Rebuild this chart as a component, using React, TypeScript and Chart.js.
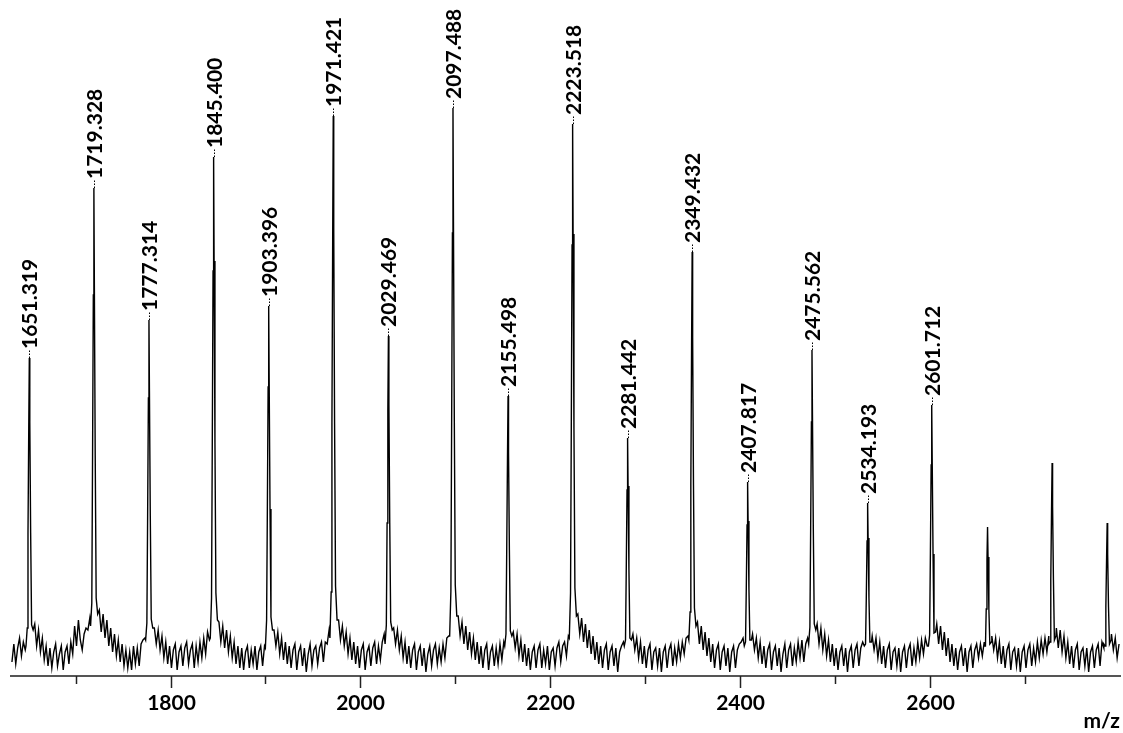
import React, { useEffect, useRef } from "react";
import { Chart, registerables } from "chart.js";

Chart.register(...registerables);

// ---- data ----
// baseline noise, read every 2 m/z units starting at 1633 (10 values per row = 20 m/z)
const noiseStartMz = 1633;
const noiseStepMz = 2;
const noiseIntensity = [
  14, 32, 12, 28, 38, 20, 34, 26, 40, 40,
  40, 40, 52, 30, 46, 24, 38, 16, 30, 10,
  28, 8, 24, 32, 10, 22, 30, 6, 24, 30,
  12, 34, 22, 50, 30, 56, 36, 26, 42, 48,
  46, 58, 60, 60, 60, 60, 66, 44, 62, 38,
  56, 30, 48, 24, 42, 20, 36, 14, 32, 10,
  26, 8, 24, 6, 30, 12, 28, 10, 32, 36,
  38, 40, 40, 40, 40, 48, 32, 46, 26, 40,
  18, 34, 12, 30, 8, 26, 32, 6, 24, 30,
  10, 28, 34, 12, 26, 32, 8, 30, 14, 34,
  18, 38, 22, 44, 36, 40, 40, 40, 40, 54,
  34, 50, 28, 46, 24, 40, 18, 34, 12, 30,
  8, 28, 6, 24, 30, 8, 26, 12, 30, 6,
  24, 30, 10, 30, 34, 30, 30, 30, 46, 30,
  44, 22, 38, 16, 34, 12, 30, 8, 26, 32,
  6, 24, 30, 10, 28, 4, 22, 32, 10, 26,
  30, 12, 28, 34, 14, 34, 32, 46, 40, 40,
  40, 40, 56, 36, 50, 30, 44, 22, 38, 16,
  34, 12, 30, 8, 26, 32, 6, 24, 30, 10,
  28, 34, 12, 30, 16, 34, 42, 30, 30, 30,
  30, 48, 32, 46, 26, 40, 18, 34, 12, 30,
  8, 26, 32, 6, 24, 30, 10, 28, 4, 22,
  30, 10, 26, 32, 12, 28, 14, 32, 18, 38,
  40, 40, 40, 40, 40, 60, 40, 54, 32, 50,
  26, 44, 22, 38, 16, 34, 12, 30, 8, 26,
  32, 6, 24, 30, 10, 28, 12, 32, 16, 34,
  30, 30, 30, 30, 44, 28, 42, 20, 36, 14,
  32, 10, 28, 6, 24, 30, 8, 26, 32, 8,
  26, 12, 30, 6, 24, 28, 10, 28, 34, 14,
  30, 34, 20, 40, 40, 40, 40, 40, 62, 42,
  58, 34, 52, 28, 46, 22, 40, 16, 34, 12,
  30, 8, 26, 32, 6, 24, 30, 10, 28, 4,
  24, 30, 34, 30, 30, 30, 30, 42, 26, 38,
  18, 34, 12, 30, 8, 26, 32, 6, 24, 28,
  10, 28, 4, 24, 30, 8, 26, 32, 10, 28,
  14, 32, 18, 34, 22, 38, 40, 40, 40, 40,
  40, 54, 32, 50, 26, 44, 20, 38, 14, 32,
  8, 26, 32, 6, 24, 30, 10, 28, 4, 24,
  30, 8, 26, 32, 34, 38, 30, 30, 30, 30,
  42, 26, 38, 18, 34, 12, 30, 8, 26, 32,
  6, 24, 30, 10, 28, 4, 22, 32, 8, 26,
  32, 10, 28, 14, 34, 18, 36, 14, 32, 38,
  30, 30, 30, 30, 52, 32, 48, 26, 42, 20,
  36, 14, 32, 10, 28, 6, 24, 30, 10, 28,
  4, 24, 30, 8, 26, 32, 10, 28, 34, 32,
  30, 30, 30, 40, 26, 38, 18, 34, 12, 30,
  8, 26, 32, 6, 24, 28, 10, 28, 4, 24,
  30, 8, 26, 32, 10, 28, 14, 34, 18, 36,
  22, 38, 30, 30, 30, 30, 30, 52, 32, 50,
  26, 44, 20, 38, 14, 32, 10, 28, 6, 24,
  30, 10, 28, 4, 24, 30, 8, 26, 32, 18,
  32, 20, 34, 30, 30, 30, 40, 26, 38, 18,
  34, 12, 30, 8, 26, 32, 6, 24, 28, 10,
  28, 4, 24, 30, 8, 26, 32, 10, 28, 14,
  34, 18, 36, 22, 38, 24, 40, 30, 30, 30,
  48, 28, 46, 24, 40, 18, 34, 12, 30, 8,
  26, 32, 6, 24, 28, 10, 28, 4, 24, 30,
  8, 26, 32, 10, 34, 28, 30, 30, 30, 42,
  26, 38, 18, 32,
];

// peak apex positions (m/z) and their profiles [m/z, intensity]
const peakCenters = [
  1651.3, 1719.3, 1777.3, 1845.4, 1903.4, 1971.4, 2029.5, 2097.5, 2155.5, 2223.5,
  2281.4, 2349.4, 2407.8, 2475.6, 2534.2, 2601.7, 2660.5, 2728.5, 2786.5,
];

const peakProfiles: [number, number][][] = [
  [[1647.8, 30], [1649.1, 48], [1649.9, 143], [1650.7, 248], [1651.3, 318], [1651.8, 254], [1652.7, 143], [1653.7, 51], [1655.3, 46]],
  [[1715.8, 50], [1717.1, 73], [1717.9, 220], [1718.7, 381], [1719.3, 488], [1719.8, 390], [1720.7, 220], [1721.7, 78], [1723.3, 62]],
  [[1773.8, 36], [1775.1, 53], [1775.9, 160], [1776.7, 278], [1777.3, 356], [1777.8, 285], [1778.7, 160], [1779.7, 57], [1781.3, 48]],
  [[1841.9, 38], [1843.2, 78], [1844.0, 234], [1844.8, 405], [1845.4, 519], [1845.9, 415], [1846.8, 234], [1847.8, 83], [1849.4, 56]],
  [[1899.9, 28], [1901.2, 56], [1902.0, 167], [1902.8, 289], [1903.4, 370], [1903.9, 296], [1904.8, 167], [1905.8, 59], [1907.4, 46]],
  [[1967.9, 38], [1969.2, 84], [1970.0, 252], [1970.8, 437], [1971.4, 560], [1971.9, 448], [1972.8, 252], [1973.8, 90], [1975.4, 56]],
  [[2026.0, 32], [2027.3, 51], [2028.1, 153], [2028.9, 265], [2029.5, 340], [2030.0, 272], [2030.9, 153], [2031.9, 54], [2033.5, 46]],
  [[2094.0, 40], [2095.3, 85], [2096.1, 256], [2096.9, 443], [2097.5, 568], [2098.0, 454], [2098.9, 256], [2099.9, 91], [2101.5, 60]],
  [[2152.0, 30], [2153.3, 42], [2154.1, 126], [2154.9, 218], [2155.5, 280], [2156.0, 224], [2156.9, 126], [2157.9, 45], [2159.5, 40]],
  [[2220.0, 38], [2221.3, 83], [2222.1, 248], [2222.9, 431], [2223.5, 552], [2224.0, 442], [2224.9, 248], [2225.9, 88], [2227.5, 60]],
  [[2277.9, 30], [2279.2, 36], [2280.0, 107], [2280.8, 186], [2281.4, 238], [2281.9, 190], [2282.8, 107], [2283.8, 38], [2285.4, 36]],
  [[2345.9, 36], [2347.2, 64], [2348.0, 191], [2348.8, 331], [2349.4, 424], [2349.9, 339], [2350.8, 191], [2351.8, 68], [2353.4, 50]],
  [[2404.3, 30], [2405.6, 34], [2406.4, 87], [2407.2, 151], [2407.8, 194], [2408.3, 155], [2409.2, 87], [2410.2, 36], [2411.8, 36]],
  [[2472.1, 32], [2473.4, 49], [2474.2, 147], [2475.0, 254], [2475.6, 326], [2476.1, 261], [2477.0, 147], [2478.0, 52], [2479.6, 46]],
  [[2530.7, 30], [2532.0, 32], [2532.8, 78], [2533.6, 135], [2534.2, 173], [2534.7, 138], [2535.6, 78], [2536.6, 34], [2538.2, 34]],
  [[2598.2, 30], [2599.5, 41], [2600.3, 122], [2601.1, 211], [2601.7, 271], [2602.2, 217], [2603.1, 122], [2604.1, 43], [2605.7, 44]],
  [[2657.0, 30], [2658.3, 30], [2659.1, 67], [2659.9, 116], [2660.5, 149], [2661.0, 119], [2661.9, 67], [2662.9, 32], [2664.5, 34]],
  [[2725.0, 32], [2726.3, 34], [2727.1, 96], [2727.9, 166], [2728.5, 213], [2729.0, 170], [2729.9, 96], [2730.9, 36], [2732.5, 40]],
  [[2783.0, 32], [2784.3, 30], [2785.1, 69], [2785.9, 119], [2786.5, 153], [2787.0, 122], [2787.9, 69], [2788.9, 32], [2790.5, 36]],
];

const labeledMz = [
  1651.319, 1719.328, 1777.314, 1845.4, 1903.396, 1971.421, 2029.469, 2097.488,
  2155.498, 2223.518, 2281.442, 2349.432, 2407.817, 2475.562, 2534.193, 2601.712,
];
const labeledText = [
  "1651.319", "1719.328", "1777.314", "1845.400", "1903.396", "1971.421", "2029.469", "2097.488",
  "2155.498", "2223.518", "2281.442", "2349.432", "2407.817", "2475.562", "2534.193", "2601.712",
];

const xMin = 1632;
const xMax = 2800;
const yMax = 676;
const majorTicks = [1800, 2000, 2200, 2400, 2600];
const minorTicks = [1700, 1900, 2100, 2300, 2500, 2700];
const axisTitle = "m/z";

const FONT = "Lato, 'Open Sans', sans-serif";

export default function App() {
  const canvasRef = useRef<HTMLCanvasElement | null>(null);

  useEffect(() => {
    const canvas = canvasRef.current;
    if (!canvas) return;

    const noisePts = noiseIntensity
      .map((v, i) => ({ x: noiseStartMz + i * noiseStepMz, y: v }))
      .filter((p) => peakCenters.every((c) => !(p.x > c - 3.5 && p.x < c + 4)));
    const peakPts = peakProfiles.flat().map(([x, y]) => ({ x, y }));
    const spectrum = [...noisePts, ...peakPts].sort((a, b) => a.x - b.x);

    const overlay = {
      id: "msOverlay",
      afterDatasetsDraw(chart: any) {
        const { ctx, scales } = chart;
        const xs = scales.x;
        const ys = scales.y;
        const area = chart.chartArea;
        ctx.save();
        // peak labels with dotted connectors
        labeledMz.forEach((mz, i) => {
          const top = Math.max(...peakProfiles[i].map((p) => p[1]));
          const px = Math.round(xs.getPixelForValue(mz)) + 0.5;
          const py = ys.getPixelForValue(top);
          ctx.strokeStyle = "#000";
          ctx.lineWidth = 1;
          ctx.setLineDash([1.5, 1.5]);
          ctx.beginPath();
          ctx.moveTo(px, py);
          ctx.lineTo(px, py - 8);
          ctx.stroke();
          ctx.setLineDash([]);
          ctx.save();
          ctx.translate(px, py - 9);
          ctx.rotate(-Math.PI / 2);
          ctx.font = `bold 21px ${FONT}`;
          ctx.fillStyle = "#000";
          ctx.textAlign = "left";
          ctx.textBaseline = "alphabetic";
          ctx.fillText(labeledText[i], 0, 7.5);
          ctx.restore();
        });
        // tick marks and tick labels
        const axisY = area.bottom;
        ctx.strokeStyle = "#222";
        ctx.lineWidth = 1.5;
        ctx.font = `bold 21px ${FONT}`;
        ctx.fillStyle = "#000";
        ctx.textAlign = "center";
        ctx.textBaseline = "alphabetic";
        majorTicks.forEach((v) => {
          const px = Math.round(xs.getPixelForValue(v)) + 0.5;
          ctx.beginPath();
          ctx.moveTo(px, axisY);
          ctx.lineTo(px, axisY + 12);
          ctx.stroke();
          ctx.fillText(String(v), px, axisY + 34);
        });
        minorTicks.forEach((v) => {
          const px = Math.round(xs.getPixelForValue(v)) + 0.5;
          ctx.beginPath();
          ctx.moveTo(px, axisY);
          ctx.lineTo(px, axisY + 8);
          ctx.stroke();
        });
        // axis title
        ctx.textAlign = "right";
        ctx.fillText(axisTitle, area.right, 728);
        ctx.restore();
      },
    };

    const chart = new Chart(canvas, {
      type: "line",
      data: {
        datasets: [
          {
            data: spectrum,
            borderColor: "#000",
            borderWidth: 1.4,
            pointRadius: 0,
            tension: 0,
            fill: false,
          },
        ],
      },
      options: {
        animation: false,
        responsive: false,
        maintainAspectRatio: false,
        layout: { padding: { left: 11, right: 3, top: 0, bottom: 0 } },
        plugins: {
          legend: { display: false },
          tooltip: { enabled: false },
        },
        scales: {
          x: {
            type: "linear",
            min: xMin,
            max: xMax,
            grid: { display: false },
            border: { display: true, color: "#555", width: 2 },
            afterFit: (scale: any) => {
              scale.height = 57;
            },
            ticks: { display: false },
          },
          y: {
            display: false,
            min: 0,
            max: yMax,
          },
        },
      },
      plugins: [overlay],
    });

    return () => chart.destroy();
  }, []);

  return (
    <div style={{ position: "fixed", left: 0, top: 0, width: 1123, height: 733, background: "#fff" }}>
      <canvas ref={canvasRef} width={1123} height={733} />
    </div>
  );
}
